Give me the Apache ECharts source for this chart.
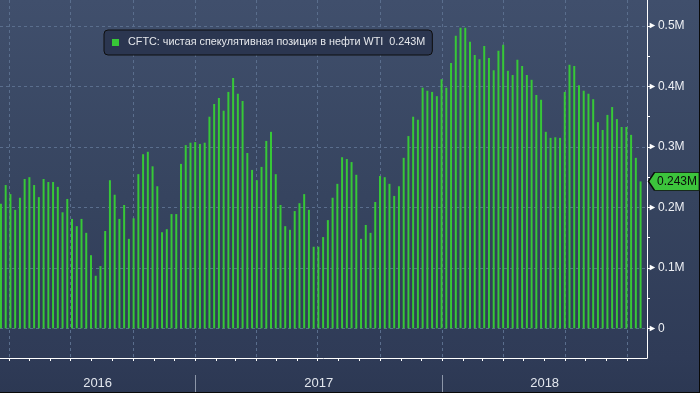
<!DOCTYPE html>
<html><head><meta charset="utf-8">
<script src="https://cdn.jsdelivr.net/npm/echarts@6/dist/echarts.min.js"></script>
<style>html,body{margin:0;padding:0;background:#2d3954}#c{width:700px;height:393px}</style>
</head><body><div id="c"></div>
<script>
// ---- data ----
const seriesName = 'CFTC: чистая спекулятивная позиция в нефти WTI';
const firstWeek = [2016, 2, 20]; // first weekly bar (y, m0, d)
const netPositionM = [
  0.206,0.237,0.222,0.196,0.216,0.247,0.250,0.237,0.217,0.247,
  0.242,0.242,0.234,0.192,0.214,0.181,0.169,0.181,0.158,0.121,
  0.087,0.103,0.161,0.245,0.221,0.181,0.204,0.148,0.182,0.255,
  0.288,0.292,0.268,0.235,0.159,0.164,0.189,0.189,0.272,0.303,
  0.307,0.308,0.305,0.307,0.350,0.371,0.381,0.360,0.391,0.414,
  0.388,0.376,0.290,0.262,0.245,0.267,0.310,0.325,0.255,0.204,
  0.169,0.163,0.194,0.207,0.222,0.196,0.135,0.135,0.151,0.179,
  0.216,0.239,0.283,0.280,0.275,0.254,0.148,0.171,0.158,0.209,
  0.252,0.250,0.239,0.219,0.235,0.282,0.318,0.350,0.345,0.398,
  0.393,0.391,0.384,0.412,0.398,0.439,0.484,0.497,0.497,0.474,
  0.452,0.445,0.467,0.447,0.427,0.459,0.469,0.426,0.419,0.444,
  0.434,0.419,0.411,0.386,0.378,0.325,0.315,0.316,0.315,0.391,
  0.436,0.434,0.402,0.393,0.388,0.379,0.341,0.328,0.353,0.366,
  0.346,0.333,0.333,0.320,0.282,0.243
];
const yLabelValues = [0, 0.1, 0.2, 0.3, 0.4, 0.5];
const yMinorValues = [0, 0.05, 0.1, 0.15, 0.2, 0.25, 0.3, 0.35, 0.4, 0.45, 0.5];
const yearLabels = ['2016', '2017', '2018'];
const axisRange = { start: [2016, 2, 18, 14], end: [2018, 9, 30, 12] };
const yRange = { min: -0.049, max: 0.543 };

// ---- build ----
const FONT = "'Liberation Sans', Arial, sans-serif";
const weekDates = netPositionM.map((_, i) => new Date(firstWeek[0], firstWeek[1], firstWeek[2] + 7 * i).getTime());
const xMin = new Date(...axisRange.start).getTime();
const xMax = new Date(...axisRange.end).getTime();
const monthTicks = [], quarterTicks = [];
for (let k = 0; ; k++) {
  const d = new Date(2016, 3 + k, 1);
  if (d.getTime() > xMax) break;
  monthTicks.push(d.getTime());
  if (d.getMonth() % 3 === 0) quarterTicks.push(d.getTime());
}
const yearStarts = [], yearMids = [];
yearLabels.forEach(y => {
  const s = Math.max(xMin, new Date(+y, 0, 1).getTime());
  const e = Math.min(xMax, new Date(+y + 1, 0, 1).getTime());
  yearMids.push((s + e) / 2);
  if (new Date(+y, 0, 1).getTime() > xMin) yearStarts.push(new Date(+y, 0, 1).getTime());
});
const lastValue = netPositionM[netPositionM.length - 1];
const fmtM = v => v.toFixed(3) + 'M';
const yearOf = v => { const i = yearMids.findIndex(m => Math.abs(m - v) < 1000); return i >= 0 ? yearLabels[i] : ''; };

const chart = echarts.init(document.getElementById('c'), null, { renderer: 'canvas' });
chart.setOption({
  animation: false,
  backgroundColor: { type: 'linear', x: 0, y: 0, x2: 0, y2: 1, colorStops: [
    { offset: 0, color: '#404f6c' }, { offset: 0.5, color: '#36445f' },
    { offset: 0.91, color: '#2f3b57' }, { offset: 1, color: '#2c3853' } ] },
  textStyle: { fontFamily: FONT },
  grid: [
    { left: 0, right: 53, top: 0, bottom: 35, outerBoundsMode: 'none' },
    { left: 0, right: 53, top: 26, bottom: 64.67, outerBoundsMode: 'none' }
  ],
  legend: {
    data: [seriesName], left: 104, top: 30, icon: 'rect', itemWidth: 7, itemHeight: 7,
    padding: [7, 7, 7, 8], backgroundColor: '#2b3650', borderColor: '#0e0e0e', borderWidth: 1, borderRadius: 4,
    textStyle: { color: '#e6e8ec', fontSize: 10.8, fontFamily: FONT, padding: [0, 0, 0, 4] },
    formatter: n => n + '  ' + fmtM(lastValue), selectedMode: false
  },
  xAxis: [
    { gridIndex: 0, type: 'value', min: xMin, max: xMax, position: 'bottom',
      axisLine: { show: true, onZero: false, lineStyle: { color: '#ffffff', width: 1 } },
      axisTick: { show: true, customValues: monthTicks, length: 3, lineStyle: { color: '#ffffff' } },
      axisLabel: { show: false }, splitLine: { show: false } },
    { gridIndex: 0, type: 'value', min: xMin, max: xMax, position: 'bottom',
      axisLine: { show: false, onZero: false }, axisTick: { show: false, customValues: quarterTicks },
      axisLabel: { show: false },
      splitLine: { show: true, lineStyle: { color: '#5a6e8d', width: 1, type: [3, 3] } } },
    { gridIndex: 0, type: 'value', min: xMin, max: xMax, position: 'bottom', offset: 17,
      axisLine: { show: false, onZero: false },
      axisTick: { show: true, customValues: yearStarts, length: 17, lineStyle: { color: '#8c96a8' } },
      axisLabel: { show: true, customValues: yearMids, margin: 2, color: '#e3e7ee', fontSize: 13, fontFamily: FONT,
        formatter: v => yearOf(v) },
      splitLine: { show: false } },
    { gridIndex: 1, type: 'value', show: false }
  ],
  yAxis: [
    { gridIndex: 0, type: 'value', position: 'right', min: yRange.min, max: yRange.max,
      axisLine: { show: true, onZero: false, lineStyle: { color: '#ffffff', width: 1 } },
      axisTick: { show: true, customValues: yMinorValues, length: 3, lineStyle: { color: '#ffffff' } },
      axisLabel: { show: true, customValues: yLabelValues, margin: 1, color: '#eef0f4', fontSize: 12, fontFamily: FONT,
        formatter: v => '{t|►}' + (v === 0 ? '0' : (+v.toFixed(1)) + 'M'),
        rich: { t: { fontSize: 9, color: '#ffffff', padding: [0, 1, 0, 0] } } },
      splitLine: { show: false } },
    { gridIndex: 1, type: 'value', min: 0, max: 0.5, interval: 0.1,
      axisLine: { show: false }, axisTick: { show: false }, axisLabel: { show: false },
      splitLine: { show: true, lineStyle: { color: '#5a6e8d', width: 1, type: [3, 3] } } }
  ],
  series: [{
    name: seriesName, type: 'bar', xAxisIndex: 0, yAxisIndex: 0, z: 3,
    barWidth: 2, itemStyle: { color: '#37c837' },
    data: weekDates.map((d, i) => [d, netPositionM[i]]),
    markPoint: {
      silent: true,
      symbol: 'path://M0,9L6,0L51,0L51,18L6,18Z', symbolSize: [51, 18], symbolOffset: [27, 0],
      itemStyle: { color: '#3cc43c', borderColor: '#0c0c0c', borderWidth: 1 },
      label: { show: true, position: 'inside', offset: [3, 0], color: '#0c0c0c', fontSize: 12, fontFamily: FONT,
        formatter: () => fmtM(lastValue) },
      data: [{ coord: [xMax, lastValue] }]
    }
  }],
  graphic: [
    { type: 'line', shape: { x1: 699.5, y1: 0, x2: 699.5, y2: 393 }, style: { stroke: '#0a0a0a', lineWidth: 1 }, silent: true },
    { type: 'line', shape: { x1: 0, y1: 392.5, x2: 700, y2: 392.5 }, style: { stroke: '#0a0a0a', lineWidth: 1 }, silent: true }
  ]
});
</script></body></html>
